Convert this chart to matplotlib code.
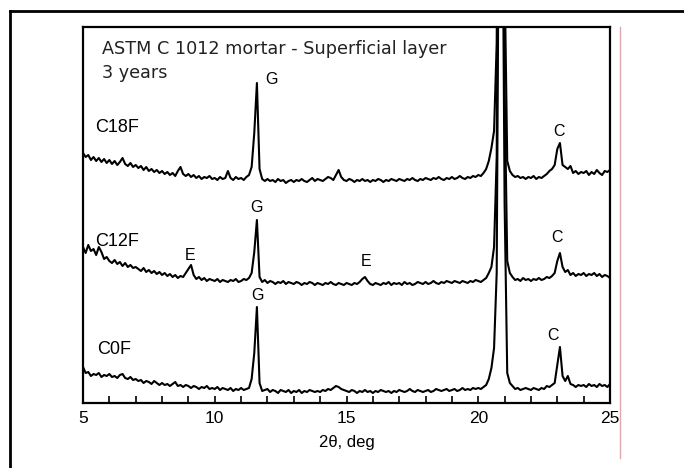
import numpy as np
import matplotlib
matplotlib.use("Agg")
import matplotlib.pyplot as plt
from matplotlib.lines import Line2D

# 2-theta sampling grid (deg), 5.0 ... 25.0 in 0.1 steps
two_theta = np.round(np.arange(5.0, 25.05, 0.1), 1)

# intensities (arb. units, own baseline per trace)
c0f = [36, 30, 31, 27, 29, 28, 30, 26, 28, 27,
       29, 26, 27, 25, 28, 29, 25, 24, 26, 23,
       24, 22, 23, 20, 22, 21, 19, 22, 20, 18,
       20, 18, 19, 17, 19, 21, 17, 18, 16, 18,
       17, 15, 17, 16, 14, 16, 15, 17, 14, 15,
       14, 16, 13, 15, 14, 13, 15, 12, 14, 13,
       15, 13, 14, 15, 24, 50, 96, 20, 12, 13,
       14, 11, 13, 12, 10, 13, 12, 11, 13, 10,
       12, 11, 13, 10, 12, 11, 13, 12, 11, 12,
       11, 13, 12, 14, 13, 15, 17, 16, 14, 13,
       12, 11, 13, 12, 10, 12, 11, 13, 11, 12,
       10, 12, 11, 13, 12, 11, 12, 10, 12, 11,
       13, 12, 11, 12, 14, 12, 11, 13, 12, 11,
       12, 13, 11, 12, 14, 13, 12, 13, 14, 12,
       13, 14, 12, 13, 15, 13, 14, 13, 15, 14,
       15, 14, 16, 18, 24, 35, 55, 130, 600, 600,
       200, 30, 20, 17, 14, 15, 13, 14, 15, 14,
       13, 15, 14, 13, 15, 14, 17, 16, 18, 20,
       38, 56, 27, 22, 27, 19, 18, 16, 18, 17,
       18, 16, 19, 17, 18, 16, 19, 17, 18, 16,
       19]

c12f = [50, 44, 52, 46, 48, 42, 50, 45, 38, 40,
        36, 34, 37, 33, 35, 31, 34, 30, 32, 29,
        30, 28, 26, 29, 25, 27, 24, 26, 23, 25,
        22, 24, 21, 23, 20, 22, 19, 21, 20, 24,
        28, 32, 22, 18, 20, 17, 19, 16, 18, 17,
        16, 18, 15, 17, 16, 15, 17, 16, 18, 15,
        16, 18, 17, 19, 24, 45, 77, 20, 15, 17,
        14, 16, 15, 13, 15, 14, 16, 13, 15, 14,
        13, 15, 14, 12, 14, 13, 15, 14, 12, 14,
        13, 12, 14, 13, 15, 13, 12, 14, 13, 12,
        14, 13, 12, 14, 13, 15, 18, 20, 16, 13,
        12, 14, 13, 12, 14, 13, 15, 12, 14, 13,
        14, 12, 15, 13, 14, 12, 13, 15, 14, 13,
        15, 13, 14, 16, 14, 13, 15, 14, 16, 15,
        14, 16, 15, 14, 16, 15, 14, 16, 15, 17,
        16, 15, 17, 19, 24, 30, 50, 140, 600, 600,
        210, 36, 24, 20, 17, 18, 16, 19, 17, 18,
        16, 18, 17, 19, 17, 18, 20, 19, 21, 24,
        36, 44, 30, 25, 27, 22, 24, 21, 23, 22,
        24, 21, 23, 22, 24, 21, 23, 20, 22, 21,
        19]

c18f = [40, 36, 38, 33, 36, 32, 35, 31, 34, 30,
        33, 29, 32, 28, 31, 35, 29, 27, 30, 26,
        28, 25, 27, 23, 26, 22, 24, 21, 23, 20,
        22, 19, 21, 18, 20, 17, 22, 26, 19, 17,
        19, 16, 18, 15, 17, 14, 16, 15, 17, 14,
        15, 13, 16, 14, 15, 22, 15, 13, 16, 14,
        15, 13, 16, 18, 26, 60, 110, 24, 14, 12,
        14, 12, 13, 11, 14, 12, 13, 10, 12, 13,
        11, 13, 12, 14, 12, 11, 13, 15, 12, 14,
        13, 12, 14, 16, 15, 13, 18, 23, 16, 13,
        12, 14, 13, 11, 13, 12, 14, 12, 13, 11,
        13, 12, 14, 13, 11, 13, 12, 14, 13, 12,
        14, 13, 12, 14, 13, 15, 13, 12, 14, 13,
        15, 14, 13, 15, 14, 16, 14, 13, 15, 14,
        16, 14, 15, 17, 15, 14, 16, 15, 17, 16,
        18, 17, 20, 24, 32, 45, 62, 150, 600, 600,
        220, 32, 22, 18, 16, 17, 15, 16, 14, 16,
        15, 17, 14, 16, 15, 17, 19, 22, 24, 28,
        44, 50, 28, 26, 24, 27, 20, 22, 19, 21,
        20, 22, 18, 21, 19, 23, 20, 18, 22, 21,
        23]

samples = ["C0F", "C12F", "C18F"]
offsets = [0, 106, 210]

# peak markers: (label, 2theta, height)
peak_marks = [("G", 12.17, 324), ("G", 11.60, 195), ("G", 11.64, 108),
              ("E", 9.06, 147), ("E", 15.74, 142),
              ("C", 23.06, 272), ("C", 22.99, 166), ("C", 22.84, 68)]
sample_label_pos = [(6.18, 54), (6.29, 162), (6.29, 276)]

W, H = 684, 468
fig = plt.figure(figsize=(W / 100, H / 100), dpi=100)
ax = fig.add_axes([83 / W, (H - 403) / H, 527 / W, 376 / H])

for name, vals, off in zip(samples, [c0f, c12f, c18f], offsets):
    ax.plot(two_theta, np.array(vals) + off, color="black", lw=1.5)

ax.set_xlim(5, 25)
ax.set_ylim(0, 376)
ax.set_xticks([5, 10, 15, 20, 25])
ax.set_xticks(np.arange(5, 26, 1), minor=True)
ax.set_yticks([])
ax.tick_params(axis="x", which="both", direction="in", length=5, width=1.2,
               labelsize=12.5, pad=6, top=False)
for s in ax.spines.values():
    s.set_linewidth(1.6)
ax.set_xlabel("2θ, deg", fontsize=12, labelpad=6,
              family=["Liberation Sans", "DejaVu Sans"])
for lab in ax.get_xticklabels():
    lab.set_family("Liberation Sans")

ax.text(0.036, 0.928, "ASTM C 1012 mortar - Superficial layer",
        transform=ax.transAxes, fontsize=12.7, color="#222222", va="baseline")
ax.text(0.036, 0.864, "3 years", transform=ax.transAxes,
        fontsize=12.7, color="#222222", va="baseline")

for name, (lx, ly) in zip(samples, sample_label_pos):
    ax.text(lx, ly, name, fontsize=13, family="Liberation Sans",
            ha="center", va="center")
for lab, px, py in peak_marks:
    ax.text(px, py, lab, fontsize=11.5, family="Liberation Sans",
            ha="center", va="center")

# outer frame (cut off at right/bottom) and the thin red guide line
fig.add_artist(Line2D([10 / W, 1.01], [1 - 11 / H, 1 - 11 / H],
                      transform=fig.transFigure, color="black", lw=2))
fig.add_artist(Line2D([10 / W, 10 / W], [1 - 11 / H, -0.01],
                      transform=fig.transFigure, color="black", lw=2))
fig.add_artist(Line2D([620 / W, 620 / W], [1 - 27 / H, 1 - 458 / H],
                      transform=fig.transFigure, color="#f4a0a0", lw=1))

fig.savefig("out.png", dpi=100, facecolor="white")
